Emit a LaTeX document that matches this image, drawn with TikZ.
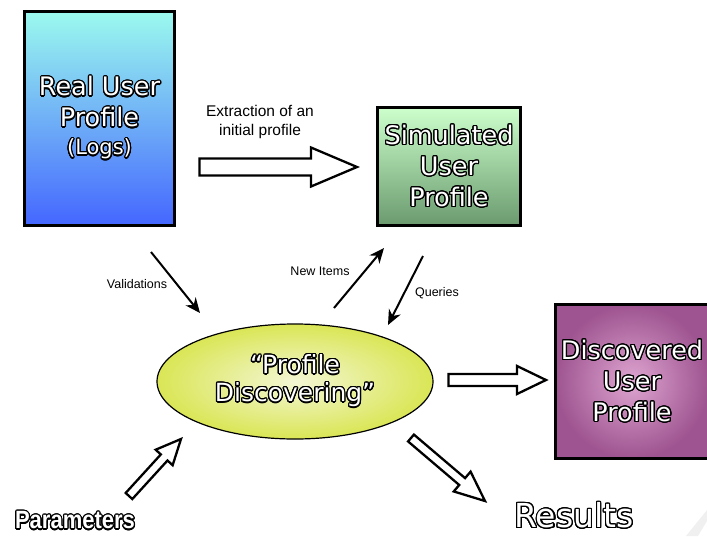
\documentclass[tikz,border=0pt]{standalone}
\usepackage{fontspec}
\setmainfont{DejaVu Sans}
\newfontfamily\labelfont{Liberation Sans}
\newfontfamily\paramfont{Liberation Sans}[FakeStretch=0.88]
\usepackage{contour}
\contourlength{1.2pt}
\contournumber{24}
\usetikzlibrary{arrows.meta,calc,shapes.geometric}

\definecolor{realtop}{RGB}{155,250,238}
\definecolor{realbot}{RGB}{68,102,255}
\definecolor{simtop}{RGB}{204,255,204}
\definecolor{simbot}{RGB}{106,154,110}
\definecolor{disin}{RGB}{222,165,208}
\definecolor{disout}{RGB}{158,84,144}
\definecolor{ellin}{RGB}{243,246,212}
\definecolor{ellout}{RGB}{218,230,85}

\newcommand\outl[1]{{\color{white}\contour{black}{#1}}}

\newcommand\blockarrow[5]{%
  \coordinate (ba-b) at ($(#2)!#5!(#1)$);
  \draw[blockstyle] ($(#1)!#3!90:(#2)$) -- ($(ba-b)!#3!-90:(#1)$) -- ($(ba-b)!#4!-90:(#1)$) -- (#2)
     -- ($(ba-b)!#4!90:(#1)$) -- ($(ba-b)!#3!90:(#1)$) -- ($(#1)!#3!-90:(#2)$) -- cycle;
}

\tikzset{
  profbox/.style={draw=black, line width=3pt, rectangle, align=center, inner sep=0pt,
     font=\fontsize{25.5}{31}\selectfont},
  blockstyle/.style={draw=black, fill=white, line width=2.3pt, line join=miter},
  thinarrow/.style={line width=2pt, -{Stealth[length=15pt,width=13pt]}},
  smalllbl/.style={font=\labelfont\fontsize{12.5}{15}\selectfont, inner sep=0pt},
}

\begin{document}
\begin{tikzpicture}[x=1pt,y=-1pt]
\useasboundingbox (0,0) rectangle (707,536);
\clip (0,0) rectangle (707,536);

% corner decoration
\fill[black!6] (686,536) -- (707,510) -- (707,521) -- (698,536) -- cycle;

% boxes
\node[profbox, top color=realtop, bottom color=realbot, minimum width=150pt, minimum height=214pt]
  (real) at (99.5,118.5) {\outl{Real User}\\\outl{Profile}\\[-3pt]{\fontsize{21}{25}\selectfont\outl{(Logs)}}};

\node[profbox, top color=simtop, bottom color=simbot, minimum width=143pt, minimum height=118pt]
  (sim) at (449,166.5) {\outl{Simulated}\\\outl{User}\\\outl{Profile}};

\node[profbox, inner color=disin, outer color=disout, minimum width=153pt, minimum height=154pt]
  (disc) at (632,381.5) {\outl{Discovered}\\\outl{User}\\\outl{Profile}};

\node[ellipse, draw=black, line width=1.2pt, inner color=ellin, outer color=ellout,
  minimum width=276pt, minimum height=115pt, inner sep=0pt, align=center,
  font=\fontsize{25}{28}\selectfont]
  (pd) at (295,381.5) {\outl{“Profile}\\\outl{Discovering”}};

% labels
\node[font=\labelfont\fontsize{15.5}{19.5}\selectfont, align=center, inner sep=0pt]
  (ext) at (260,122) {Extraction of an\\initial profile};
\node[smalllbl] (val) at (137,284) {Validations};
\node[smalllbl] (new) at (320,271) {New Items};
\node[smalllbl] (qry) at (437,293) {Queries};

\node[inner sep=0pt, font=\paramfont\bfseries\fontsize{25}{28}\selectfont] (par) at (75,521) {\outl{Parameters}};
\node[inner sep=0pt, font=\fontsize{33}{36}\selectfont] (res) at (574,516) {\outl{Results}};

% thin arrows
\coordinate (v1) at (151,252); \coordinate (v2) at (200,313);
\coordinate (n1) at (334,308); \coordinate (n2) at (384,248);
\coordinate (q1) at (423,256); \coordinate (q2) at (388,325);
\draw[thinarrow] (v1) -- (v2);
\draw[thinarrow] (n1) -- (n2);
\draw[thinarrow] (q1) -- (q2);

% block arrows
\coordinate (e1) at (199.5,167); \coordinate (e2) at (357,167);
\blockarrow{e1}{e2}{8.5pt}{19.5pt}{46pt}
\coordinate (r1) at (448.5,380); \coordinate (r2) at (546,380);
\blockarrow{r1}{r2}{6pt}{14pt}{29pt}
\coordinate (p1) at (129,496); \coordinate (p2) at (181,439);
\blockarrow{p1}{p2}{4.5pt}{11.5pt}{25pt}
\coordinate (t1) at (411,438); \coordinate (t2) at (485,501);
\blockarrow{t1}{t2}{4.5pt}{13pt}{30pt}
\end{tikzpicture}
\end{document}
